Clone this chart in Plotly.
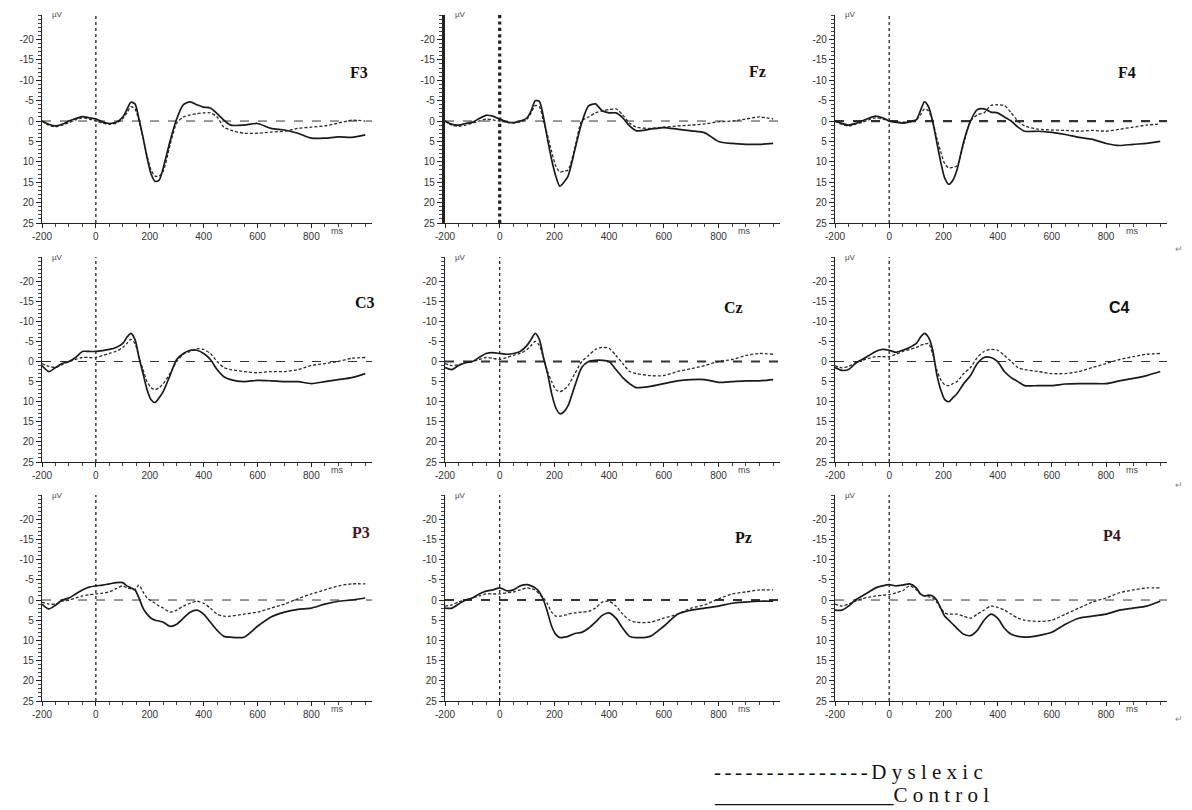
import plotly.graph_objects as go

# ---------------- data ----------------
T = [-200, -175, -150, -125, -100, -75, -50, -25,
     0, 25, 50, 75, 100,
     115, 130, 145, 160, 175, 190, 205, 220, 235, 250,
     275, 300, 325, 350, 375, 400, 425, 450, 475, 500,
     550, 600, 650, 700, 750, 800, 850, 900, 950, 1000]

F3_CTRL = [0, 0.8, 1.2, 0.8, 0, -0.6, -1.1, -0.8,
           -0.5, 0.2, 0.6, 0.3, -1,
           -2.8, -4.6, -4.2, -0.5, 4, 9, 13, 14.8, 14.5, 11.5,
           5, -0.5, -4, -4.7, -4, -3.4, -3.2, -1.8, -0.2, 1,
           1, 0.6, 1.8, 2.2, 3, 4.2, 4.2, 3.9, 4, 3.4]
F3_DYS = [0, 1, 1.4, 1, 0.4, -0.3, -0.8, -0.5,
          0, 0.5, 0.8, 0.5, -0.6,
          -2, -3.5, -3, 0, 4, 8.5, 12, 13.5, 13.5, 12.3,
          6, 0.5, -1, -1.5, -1.8, -2, -2, -1, 1.5, 2.2,
          3, 3, 2.7, 2.5, 1.8, 1.5, 1.2, 0.5, -0.2, 0]

FZ_CTRL = [0, 0.8, 1, 0.6, 0.3, -0.6, -1.4, -1.2,
           -0.5, 0.2, 0.4, 0, -0.8,
           -2.5, -5, -4.8, -1, 4.5, 9.5, 13.5, 16, 15, 13.5,
           7, 0.4, -3.7, -4.2, -2.5, -2, -2, -0.8, 1.2, 2.4,
           2, 1.6, 2, 2.4, 2.9, 5, 5.5, 5.7, 5.7, 5.5]
FZ_DYS = [0, 1, 1.3, 1, 0.5, 0, -0.5, -0.3,
          0, 0.3, 0.5, 0.2, -0.5,
          -2, -3.8, -3.5, 0, 3.5, 7.5, 11, 12.5, 12.3, 12,
          6.5, 0, -1, -2, -2.5, -2.8, -3, -1.5, 0.5, 1.5,
          1.8, 1.5, 1.2, 1, 0.7, 0.2, 0, -0.5, -1, -0.5]

F4_CTRL = [0, 0.6, 1, 0.6, 0, -0.7, -1.2, -0.8,
           0, 0.3, 0.5, 0.2, -0.3,
           -2.5, -4.7, -3.5, 0, 5, 10, 14, 15.5, 14.5, 12,
           5, 0, -2.8, -3, -2.2, -2, -1, 0, 1.5, 2.5,
           2.5, 2.8, 3.3, 4, 4.5, 5.5, 6, 5.7, 5.5, 5]
F4_DYS = [0, 0.8, 1.2, 0.8, 0.3, -0.3, -0.8, -0.5,
          0, 0.2, 0.3, 0.1, -0.3,
          -1.5, -3, -2.5, 0, 4, 7.5, 10.5, 11.5, 11.3, 11,
          5.5, 0, -1.5, -2, -3.8, -4, -3.8, -2, 0, 1.2,
          2, 2.2, 2.3, 2.5, 2.3, 2.5, 2, 1.5, 1, 0.7]

C3_CTRL = [1, 2.5, 1.5, 0.5, 0, -1, -2.5, -2.5,
           -2.5, -2.7, -3, -3.5, -4.5,
           -6, -7, -5.5, -1, 3, 7, 9.5, 10.2, 9, 7.5,
           3.5, -0.5, -2, -2.8, -2.8, -2, -0.5, 2, 3.8, 4.5,
           5, 4.7, 4.8, 5, 5, 5.5, 5, 4.5, 4, 3]
C3_DYS = [0.5, 1.2, 1.5, 0.8, 0, -0.5, -1, -1,
          -1, -1.5, -2, -2.5, -3.5,
          -4.5, -5.5, -4.5, -1, 2, 5, 6.5, 7, 6.5, 5.5,
          3, 0, -1.8, -2.5, -3.2, -3, -2, 0, 1.5, 2,
          2.5, 2.8, 2.5, 2.5, 2, 1, 0.5, 0, -0.8, -1]

CZ_CTRL = [1.5, 2, 1, 0.3, 0, -1, -2, -2.2,
           -2, -1.8, -2, -2.5, -4,
           -5.5, -7, -5.5, -1, 3, 8, 11.5, 13, 12.5, 11,
           6, 1.5, 0, -0.3, -0.3, 0, 2, 4, 5.5, 6.5,
           6.2, 5.5, 4.8, 4.5, 4.5, 5.2, 5, 4.8, 4.8, 4.5]
CZ_DYS = [0.5, 1, 0.8, 0.3, 0, -0.5, -1, -0.8,
          -0.5, -1, -1.5, -2, -3,
          -4, -5, -4, -1, 2.5, 5, 7, 7.5, 7, 6,
          3, 0, -1.5, -3, -3.5, -3.3, -1.5, 0.5, 2.5, 3,
          3.5, 3.5, 2.5, 1.8, 1, 0, -0.5, -1.5, -2, -1.8]

C4_CTRL = [1.5, 2.2, 2, 0.5, -0.5, -1.5, -2.5, -3,
           -2.8, -2.3, -2.8, -3.5, -4.5,
           -6, -7, -6, -3, 3, 7, 9.5, 10, 9, 8,
           5.5, 3.5, 0.5, -1, -1, 0, 2.5, 4, 5, 6,
           6, 6, 5.6, 5.5, 5.5, 5.5, 4.8, 4.2, 3.5, 2.5]
C4_DYS = [1, 1.6, 1.2, 0.3, -0.3, -0.8, -1.2, -1.2,
          -1.2, -1.8, -2.5, -3, -3.5,
          -4, -4.3, -4.5, -2, 2, 4.5, 5.8, 6, 5.5, 5,
          3, 1.5, -1, -2.5, -3, -2.8, -1.5, 0, 1.5, 2,
          2.5, 3, 3, 2.5, 1.5, 0.5, -0.5, -1.2, -1.8, -2]

P3_CTRL = [1, 2.2, 1.3, 0, -0.5, -1.5, -2.5, -3.2,
           -3.5, -3.7, -4, -4.3, -4.3,
           -3.5, -3, -2.5, -0.5, 2, 3.5, 4.5, 5, 5.2, 5.5,
           6.5, 6, 4.5, 3, 2.5, 3.5, 5.5, 7.5, 9, 9.2,
           9.2, 6.5, 4.2, 3, 2.3, 2, 1, 0.3, 0, -0.5]
P3_DYS = [0.5, 1, 1, 0.3, 0, -0.5, -1, -1.3,
          -1.5, -1.7, -2, -2.8, -3.5,
          -3, -2.8, -2.6, -3.7, -2, -0.5, 0.2, 0.8, 1.5, 2,
          3, 2.5, 1.5, 0.8, 0.3, 0.8, 2, 3.5, 4, 4,
          3.5, 3, 2, 1, -0.3, -1.5, -2.5, -3.5, -4, -4]

PZ_CTRL = [2, 2, 1, 0, -0.5, -1.5, -2.2, -2.5,
           -3, -2.3, -2.5, -3.5, -3.8,
           -3.5, -3, -2, 0, 3, 6.5, 8.5, 9.3, 9.2, 9,
           8.3, 8, 7, 5.5, 3.8, 3.2, 4.5, 7, 9, 9.3,
           9, 6.5, 3.5, 2.5, 2, 1.5, 0.8, 0.5, 0.3, 0.3]
PZ_DYS = [1.5, 1.2, 0.5, 0, -0.5, -1, -1.5, -1.5,
          -1.5, -1.8, -2, -2.5, -3,
          -2.8, -2.5, -1.5, -0.5, 1, 3, 4, 4, 3.8, 3.5,
          3.2, 3, 2.8, 2, 0.5, 0.3, 1.5, 3.5, 5, 5.5,
          5.5, 4.5, 3.5, 2, 1.2, -0.3, -1.5, -2, -2.5, -2.5]

P4_CTRL = [2.5, 2.5, 1.5, 0, -1, -2, -3, -3.5,
           -3.8, -3.5, -3.7, -4, -3,
           -1.5, -1, -1.2, -1, 0, 2, 4, 5, 6, 7,
           8.5, 8.8, 7.5, 5, 3.5, 4.5, 7, 8.5, 9, 9.2,
           8.8, 8, 6, 4.5, 4, 3.5, 2.5, 2, 1.5, 0.3]
P4_DYS = [1, 1.5, 1, 0.3, -0.3, -0.7, -1, -1.2,
          -1.3, -1.8, -2.3, -3.5, -2.5,
          -1.5, -1, -0.8, -0.5, 0.5, 2, 3.2, 3.5, 3.5, 3.5,
          4, 4.5, 3.5, 2.5, 1.5, 1.8, 2.5, 3.5, 4.5, 5,
          5.3, 5, 3.5, 2, 0.5, -0.5, -1.8, -2.5, -3, -3]

LABELS = ["F3", "Fz", "F4", "C3", "Cz", "C4", "P3", "Pz", "P4"]
CONTROL = [F3_CTRL, FZ_CTRL, F4_CTRL, C3_CTRL, CZ_CTRL, C4_CTRL, P3_CTRL, PZ_CTRL, P4_CTRL]
DYSLEXIC = [F3_DYS, FZ_DYS, F4_DYS, C3_DYS, CZ_DYS, C4_DYS, P3_DYS, PZ_DYS, P4_DYS]

X_TICKS = [-200, 0, 200, 400, 600, 800]
Y_TICKS = [-20, -15, -10, -5, 0, 5, 10, 15, 20, 25]

# ---------------- layout helpers ----------------
W, H = 1192, 810
COL_PX = [(42, 372), (445, 780), (835, 1167)]
ROW_PX = [(15, 223), (257, 462), (495, 701)]
LABEL_PX = [(348, 62), (757, 61), (1138, 62),
            (353, 302), (733, 307), (1132, 308),
            (350, 543), (743, 537), (1123, 535)]
LABEL_FONT = ["Liberation Serif"] * 5 + ["Liberation Sans"] + ["Liberation Serif"] * 3
LABEL_COLOR = ["#111"] * 6 + ["#4a1424", "#111", "#3e1424"]
YAXIS_W = [1.2, 3.2, 1.2, 1.2, 1.2, 1.2, 1.2, 1.2, 1.2]
VLINE_W = [1.3, 3.2, 1.3, 1.3, 1.3, 1.3, 1.3, 1.3, 1.3]
HLINE_W = [1.0, 1.0, 2.2, 1.0, 2.2, 1.0, 1.0, 2.2, 1.0]

fig = go.Figure()
annotations = []
shapes = []
layout = {}

for i in range(9):
    r, c = divmod(i, 3)
    n = i + 1
    xs = "" if n == 1 else str(n)
    xa, ya = "x" + xs, "y" + xs
    fig.add_trace(go.Scatter(x=T, y=DYSLEXIC[i], mode="lines", xaxis=xa, yaxis=ya,
                             line=dict(color="#2a2a2a", width=1.3, dash="3px,2px",
                                       shape="spline", smoothing=0.7),
                             name="Dyslexic", showlegend=False))
    fig.add_trace(go.Scatter(x=T, y=CONTROL[i], mode="lines", xaxis=xa, yaxis=ya,
                             line=dict(color="#1a1a1a", width=1.7,
                                       shape="spline", smoothing=0.7),
                             name="Control", showlegend=False))
    x0, x1 = COL_PX[c]
    y0, y1 = ROW_PX[r]
    layout["xaxis" + xs] = dict(
        domain=[x0 / W, x1 / W], anchor=ya, range=[-200, 1025], automargin=False,
        tickmode="array", tickvals=X_TICKS, ticktext=[str(v) for v in X_TICKS],
        ticks="outside", ticklen=4, tickwidth=1, tickcolor="#222",
        minor=dict(dtick=50, ticklen=3, tickcolor="#444", ticks="outside"),
        showline=True, linecolor="#222", linewidth=1.3,
        showgrid=False, zeroline=False,
        tickfont=dict(family="Liberation Sans", size=10, color="#333"),
    )
    layout["yaxis" + xs] = dict(
        domain=[1 - y1 / H, 1 - y0 / H], anchor=xa, range=[25, -26], automargin=False,
        tickmode="array", tickvals=Y_TICKS, ticktext=[str(v) for v in Y_TICKS],
        ticks="outside", ticklen=5, tickwidth=1, tickcolor="#222",
        minor=dict(dtick=1, ticklen=3, tickcolor="#444", ticks="outside"),
        showline=True, linecolor="#222", linewidth=YAXIS_W[i],
        showgrid=False, zeroline=False,
        tickfont=dict(family="Liberation Sans", size=10, color="#333"),
    )
    # zero lines
    shapes.append(dict(type="line", xref=xa, yref=ya + " domain", x0=0, x1=0, y0=0, y1=1,
                       line=dict(color="#222", width=VLINE_W[i], dash="dot"), layer="below"))
    shapes.append(dict(type="line", xref=xa + " domain", yref=ya, x0=0, x1=1, y0=0, y1=0,
                       line=dict(color="#333", width=HLINE_W[i], dash="dash"), layer="below"))
    # electrode label
    lx, ly = LABEL_PX[i]
    annotations.append(dict(text="<b>%s</b>" % LABELS[i], xref="paper", yref="paper",
                            x=lx / W, y=1 - ly / H, showarrow=False,
                            font=dict(family=LABEL_FONT[i], size=16, color=LABEL_COLOR[i])))
    # unit labels
    annotations.append(dict(text="µV", xref=xa + " domain", yref=ya + " domain",
                            x=0.025, y=1.0, xanchor="left", yanchor="middle", showarrow=False,
                            font=dict(family="Liberation Sans", size=8, color="#444")))
    annotations.append(dict(text="ms", xref=xa, yref=ya + " domain",
                            x=865, y=0, xanchor="left", yanchor="top", yshift=-1,
                            showarrow=False,
                            font=dict(family="Liberation Sans", size=9, color="#444")))

# paragraph marks at right edge
for py in [240, 484, 727]:
    annotations.append(dict(text="↵", xref="paper", yref="paper", x=1185 / W, y=1 - py / H,
                            showarrow=False, font=dict(size=9, color="#888")))

# legend (typed as text, like the source)
SP = "\u2005"
dys_text = ("-\u2006" * 15) + SP.join("Dyslexic")
ctl_text = ("_" * 17) + SP.join("Control")
annotations.append(dict(text=dys_text, xref="paper", yref="paper",
                        x=712 / W, y=1 - 772 / H, xanchor="left", yanchor="middle",
                        showarrow=False,
                        font=dict(family="Liberation Serif", size=21, color="#111")))
annotations.append(dict(text=ctl_text, xref="paper", yref="paper",
                        x=712 / W, y=1 - 795 / H, xanchor="left", yanchor="middle",
                        showarrow=False,
                        font=dict(family="Liberation Serif", size=21, color="#111")))

fig.update_layout(
    width=W, height=H,
    margin=dict(l=0, r=0, t=0, b=0),
    paper_bgcolor="white", plot_bgcolor="white",
    showlegend=False,
    annotations=annotations, shapes=shapes,
    **layout,
)

fig.write_html("out.html", config={"displayModeBar": False},
               post_script="document.body.style.margin='0px';")
